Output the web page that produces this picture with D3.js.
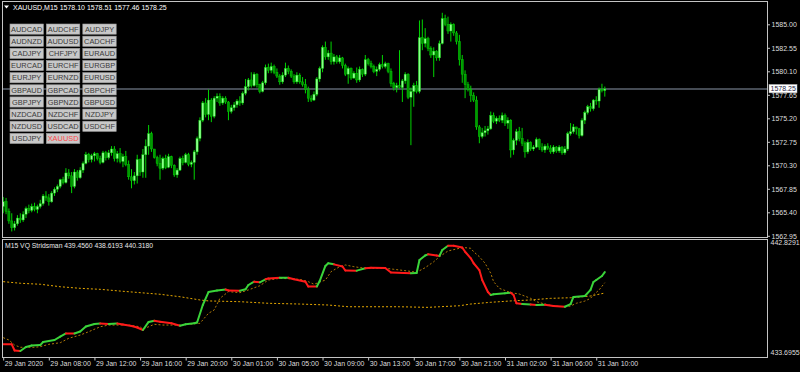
<!DOCTYPE html>
<html>
<head>
<meta charset="utf-8">
<script src="https://cdn.jsdelivr.net/npm/d3@7"></script>
<style>
  body { margin: 0; background: #000; }
  svg { display: block; font-family: "Liberation Sans", Arial, sans-serif; }
</style>
</head>
<body>
<svg id="chart" width="800" height="372"></svg>
<script>
// XAUUSD M15, 29 Jan 04:00 .. 31 Jan 10:45
const open = [
  1566.0,1566.5,1565.5,1564.5,1563.8,1564.2,1564.8,1564.6,1565.2,1565.8,
  1565.6,1566.0,1565.7,1566.0,1566.3,1567.1,1566.9,1566.5,1567.4,1567.8,
  1568.1,1568.8,1568.5,1569.5,1569.2,1568.1,1569.6,1569.0,1569.8,1570.5,
  1571.4,1570.9,1571.3,1571.5,1571.0,1570.6,1571.6,1571.1,1571.6,1572.0,
  1571.0,1571.5,1570.7,1571.2,1570.4,1569.1,1568.7,1569.2,1570.9,1569.6,
  1571.4,1572.3,1573.6,1572.0,1571.1,1570.5,1570.0,1571.0,1570.1,1571.2,
  1570.3,1569.3,1569.8,1571.0,1570.6,1571.4,1570.4,1570.6,1571.7,1573.1,
  1575.0,1576.8,1575.6,1577.1,1575.4,1577.3,1577.5,1576.8,1577.3,1576.9,
  1575.9,1576.3,1576.6,1577.0,1576.8,1577.8,1578.5,1579.2,1578.6,1579.8,
  1578.7,1578.0,1578.9,1580.5,1580.2,1580.6,1580.0,1579.6,1579.0,1579.7,
  1580.4,1580.1,1579.6,1579.0,1579.7,1579.0,1578.7,1578.2,1577.3,1577.1,
  1577.7,1579.3,1580.4,1582.6,1581.6,1582.0,1581.1,1581.6,1581.1,1581.5,
  1580.7,1579.8,1580.4,1579.4,1579.9,1579.2,1580.3,1579.8,1581.3,1580.9,
  1580.6,1580.1,1580.3,1580.8,1580.6,1580.9,1580.1,1578.8,1578.4,1578.6,
  1578.4,1579.1,1579.8,1577.4,1578.0,1578.6,1578.0,1583.6,1583.0,1583.5,
  1582.5,1581.8,1582.2,1581.5,1583.0,1585.6,1585.0,1584.3,1585.0,1584.1,
  1583.2,1581.3,1579.8,1578.7,1578.2,1577.6,1577.1,1574.3,1573.3,1573.7,
  1573.9,1574.1,1575.5,1574.9,1575.2,1575.0,1575.5,1574.7,1575.0,1571.9,
  1572.9,1573.8,1573.1,1572.6,1571.7,1572.7,1572.0,1572.2,1573.0,1572.2,
  1571.9,1572.3,1572.1,1571.7,1572.2,1571.8,1572.2,1571.6,1572.0,1573.6,
  1573.8,1574.3,1574.1,1573.4,1575.0,1575.8,1576.4,1576.2,1577.1,1577.0,
  1578.2,1578.10
];
const high = [
  1567.0,1566.9,1565.8,1565.3,1564.5,1565.1,1565.3,1565.5,1566.0,1566.2,
  1566.3,1566.4,1566.2,1566.7,1567.3,1567.6,1567.3,1567.6,1568.0,1568.3,
  1568.9,1569.1,1570.0,1569.9,1569.6,1569.9,1569.8,1570.1,1570.7,1571.7,
  1571.6,1571.5,1571.7,1571.6,1571.3,1571.8,1571.8,1571.9,1572.3,1572.3,
  1571.8,1572.1,1571.5,1571.8,1570.8,1569.9,1569.6,1571.4,1571.0,1572.0,
  1573.0,1574.5,1573.8,1572.0,1571.3,1571.4,1571.2,1571.4,1571.5,1571.3,
  1570.4,1570.0,1571.2,1571.3,1571.6,1571.6,1570.8,1571.9,1573.3,1575.3,
  1577.0,1577.3,1578.2,1577.3,1577.5,1577.8,1577.8,1577.5,1577.5,1577.0,
  1576.6,1576.9,1577.2,1577.5,1578.0,1579.3,1579.4,1580.0,1580.0,1579.9,
  1578.8,1579.1,1580.8,1580.9,1581.0,1580.8,1580.4,1579.8,1580.0,1581.0,
  1580.7,1580.3,1579.8,1580.0,1579.9,1579.5,1579.3,1578.5,1577.6,1578.0,
  1579.5,1580.6,1582.8,1583.2,1582.3,1583.2,1581.9,1581.8,1581.8,1581.6,
  1580.9,1580.6,1580.5,1580.1,1580.5,1580.6,1580.4,1581.8,1581.5,1581.2,
  1580.8,1580.6,1581.0,1581.8,1581.1,1581.0,1580.4,1579.0,1578.9,1582.3,
  1579.3,1580.0,1579.9,1578.4,1578.9,1579.1,1585.4,1585.5,1584.6,1583.7,
  1582.7,1582.6,1582.3,1583.3,1586.2,1586.0,1585.8,1585.2,1585.1,1584.3,
  1583.9,1581.8,1580.2,1579.0,1578.6,1577.9,1577.5,1574.5,1574.2,1574.4,
  1574.4,1575.9,1575.8,1575.4,1575.5,1575.8,1575.7,1575.3,1575.1,1573.1,
  1574.1,1574.3,1574.2,1572.8,1573.0,1572.8,1572.4,1573.2,1573.1,1572.6,
  1572.5,1572.6,1572.4,1572.4,1572.3,1572.4,1572.3,1572.3,1573.8,1574.7,
  1574.6,1574.3,1574.2,1575.2,1576.0,1576.6,1576.8,1577.2,1577.5,1578.4,
  1578.8,1578.51
];
const low = [
  1565.3,1565.2,1564.2,1563.4,1563.5,1564.0,1564.3,1564.4,1564.8,1565.3,
  1565.4,1565.5,1565.3,1565.8,1566.1,1566.6,1566.1,1566.4,1567.1,1567.5,
  1567.9,1568.3,1568.4,1568.9,1567.4,1567.9,1568.7,1568.9,1569.5,1570.4,
  1570.6,1570.6,1570.7,1570.8,1570.4,1570.5,1570.8,1570.9,1571.3,1570.7,
  1570.6,1570.5,1570.1,1570.2,1568.8,1567.9,1568.3,1568.4,1569.2,1569.0,
  1569.0,1571.4,1571.7,1571.0,1570.2,1568.8,1569.8,1569.9,1570.0,1570.0,
  1569.1,1569.0,1569.7,1570.3,1570.5,1570.2,1570.1,1568.8,1571.4,1572.8,
  1574.8,1575.3,1575.0,1574.8,1575.2,1576.9,1576.5,1576.6,1576.7,1575.0,
  1575.7,1576.0,1576.3,1576.5,1576.6,1577.6,1578.1,1578.4,1578.5,1578.4,
  1577.8,1577.9,1578.7,1579.9,1579.9,1579.8,1579.4,1578.7,1578.8,1579.5,
  1579.8,1579.4,1578.8,1578.8,1578.8,1578.5,1577.8,1576.9,1576.9,1577.0,
  1577.5,1579.0,1580.0,1581.3,1581.3,1580.8,1580.8,1580.9,1580.9,1580.4,
  1579.6,1578.8,1579.2,1579.3,1578.9,1579.0,1579.5,1579.6,1580.7,1580.4,
  1579.9,1579.6,1580.1,1580.4,1580.4,1579.9,1578.5,1578.1,1577.9,1578.3,
  1576.9,1578.8,1577.2,1572.4,1576.4,1577.8,1577.8,1582.3,1582.6,1582.2,
  1581.5,1579.5,1581.2,1581.2,1582.9,1584.8,1584.0,1583.2,1583.8,1582.9,
  1580.7,1578.9,1577.3,1578.0,1576.9,1576.9,1574.0,1572.6,1573.1,1573.3,
  1573.5,1574.0,1574.7,1574.6,1574.8,1574.7,1574.4,1574.1,1571.1,1571.4,
  1572.4,1572.8,1572.3,1571.1,1571.5,1571.8,1571.8,1572.1,1571.9,1571.7,
  1571.6,1571.9,1571.5,1571.5,1571.6,1571.6,1571.4,1571.4,1571.8,1573.4,
  1573.6,1573.5,1573.1,1573.3,1574.6,1575.6,1575.9,1576.0,1576.6,1576.3,
  1577.9,1577.46
];
const close = [
  1566.5,1565.5,1564.5,1563.8,1564.2,1564.8,1564.6,1565.2,1565.8,1565.6,
  1566.0,1565.7,1566.0,1566.3,1567.1,1566.9,1566.5,1567.4,1567.8,1568.1,
  1568.8,1568.5,1569.5,1569.2,1568.1,1569.6,1569.0,1569.8,1570.5,1571.4,
  1570.9,1571.3,1571.5,1571.0,1570.6,1571.6,1571.1,1571.6,1572.0,1571.0,
  1571.5,1570.7,1571.2,1570.4,1569.1,1568.7,1569.2,1570.9,1569.6,1571.4,
  1572.3,1573.6,1572.0,1571.1,1570.5,1570.0,1571.0,1570.1,1571.2,1570.3,
  1569.3,1569.8,1571.0,1570.6,1571.4,1570.4,1570.6,1571.7,1573.1,1575.0,
  1576.8,1575.6,1577.1,1575.4,1577.3,1577.5,1576.8,1577.3,1576.9,1575.9,
  1576.3,1576.6,1577.0,1576.8,1577.8,1578.5,1579.2,1578.6,1579.8,1578.7,
  1578.0,1578.9,1580.5,1580.2,1580.6,1580.0,1579.6,1579.0,1579.7,1580.4,
  1580.1,1579.6,1579.0,1579.7,1579.0,1578.7,1578.2,1577.3,1577.1,1577.7,
  1579.3,1580.4,1582.6,1581.6,1582.0,1581.1,1581.6,1581.1,1581.5,1580.7,
  1579.8,1580.4,1579.4,1579.9,1579.2,1580.3,1579.8,1581.3,1580.9,1580.6,
  1580.1,1580.3,1580.8,1580.6,1580.9,1580.1,1578.8,1578.4,1578.6,1578.4,
  1579.1,1579.8,1577.4,1578.0,1578.6,1578.0,1583.6,1583.0,1583.5,1582.5,
  1581.8,1582.2,1581.5,1583.0,1585.6,1585.0,1584.3,1585.0,1584.1,1583.2,
  1581.3,1579.8,1578.7,1578.2,1577.6,1577.1,1574.3,1573.3,1573.7,1573.9,
  1574.1,1575.5,1574.9,1575.2,1575.0,1575.5,1574.7,1575.0,1571.9,1572.9,
  1573.8,1573.1,1572.6,1571.7,1572.7,1572.0,1572.2,1573.0,1572.2,1571.9,
  1572.3,1572.1,1571.7,1572.2,1571.8,1572.2,1571.6,1572.0,1573.6,1573.8,
  1574.3,1574.1,1573.4,1575.0,1575.8,1576.4,1576.2,1577.1,1577.0,1578.2,
  1578.1,1578.25
];

const priceTicks = [1585.00,1582.55,1580.10,1577.65,1575.20,1572.75,1570.30,1567.85,1565.40,1562.95];
const timeIdx = [0,16,32,48,64,80,96,112,128,144,160,176,192,208];
const timeLabels = ["29 Jan 2020","29 Jan 08:00","29 Jan 12:00","29 Jan 16:00","29 Jan 20:00",
  "30 Jan 01:00","30 Jan 05:00","30 Jan 09:00","30 Jan 13:00","30 Jan 17:00","30 Jan 21:00",
  "31 Jan 02:00","31 Jan 06:00","31 Jan 10:00"];

// VQ Stridsman: main line (breakpoints, colour of segment ending at each point)
const vqIdx = [0,3,4,6,8,10,13,14,18,20,22,25,27,29,32,34,37,40,42,45,47,49,51,53,55,59,62,64,67,68,
  70,72,75,78,79,83,85,86,88,90,92,93,97,100,102,106,107,110,111,113,114,116,119,120,124,127,129,134,136,143,
  145,146,148,149,152,153,154,156,158,161,162,164,165,167,168,170,171,172,176,178,179,180,182,185,187,190,193,197,199,200,
  204,206,207,208,210,211];
const vqVal = [434.47,434.47,433.97,433.93,434.25,434.37,434.41,434.66,434.82,435.10,
  435.35,435.35,435.51,435.91,436.11,436.15,436.11,436.15,436.07,435.95,
  435.83,435.63,436.28,436.38,436.30,436.17,435.98,436.09,436.17,436.24,
  437.65,438.70,438.82,438.91,438.82,438.81,438.92,439.27,439.54,439.49,
  439.73,439.80,439.86,439.86,439.73,439.54,439.15,439.15,439.59,440.81,
  441.03,440.94,440.77,440.44,440.43,440.62,440.67,440.64,440.28,440.22,
  440.24,441.29,441.66,441.75,441.66,441.62,442.10,442.45,442.45,442.30,
  441.96,441.43,441.03,440.48,439.67,438.70,438.46,438.52,438.60,438.65,
  438.46,437.79,437.73,437.69,437.65,437.68,437.57,437.51,437.73,438.30,
  438.38,438.87,439.51,439.67,440.00,440.318];
const vqCol = ("rrrrgggggg" + "grggggrgrr" + "rrggrrrggg" + "ggggrrgggr" + "grrgrrrrgg" +
  "ggrrrgrrrr" + "ggggrrggrr" + "rrrrrrrggg" + "rrrgrgrrgg" + "gggggg").split("");

const sigIdx = [0,2,4,6,11,13,16,20,23,27,30,34,37,44,48,49,53,56,62,65,69,72,74,76,79,83,86,90,93,97,
  104,107,109,113,115,118,120,123,127,134,137,142,145,148,151,153,156,160,162,164,
  165,167,169,171,172,174,178,181,185,187,190,193,197,199,201,204,206,207,209,211];
const sigVal = [435.01,434.82,434.41,434.23,434.23,434.28,434.47,434.60,434.96,435.22,
  435.49,435.89,436.03,436.03,435.89,435.69,436.09,436.03,436.03,436.09,
  436.17,436.98,437.25,438.19,438.73,438.65,438.87,439.21,439.67,439.81,
  439.73,439.54,439.33,439.67,440.35,440.75,440.89,440.75,440.62,440.62,
  440.54,440.40,440.30,440.67,441.15,441.56,442.02,442.24,442.29,442.24,
  441.96,441.56,441.03,440.22,439.54,439.00,438.65,438.54,438.19,437.92,
  437.73,437.57,437.51,437.57,437.79,437.97,438.19,438.46,438.87,439.456];

const maIdx = [0,6,13,20,27,34,41,48,55,62,69,72,83,93,104,114,121,139,149,153,160,164,171,178,185,192,199,206,211];
const maVal = [439.54,439.41,439.33,439.13,439.00,438.92,438.78,438.65,438.52,438.32,438.06,437.98,437.92,
  437.79,437.73,437.65,437.51,437.51,437.46,437.51,437.59,437.73,437.87,437.98,438.06,438.19,438.24,438.38,438.619];

const symbols = ["AUDCAD","AUDCHF","AUDJPY","AUDNZD","AUDUSD","CADCHF","CADJPY","CHFJPY","EURAUD",
  "EURCAD","EURCHF","EURGBP","EURJPY","EURNZD","EURUSD","GBPAUD","GBPCAD","GBPCHF",
  "GBPJPY","GBPNZD","GBPUSD","NZDCAD","NZDCHF","NZDJPY","NZDUSD","USDCAD","USDCHF",
  "USDJPY","XAUUSD"];
const activeSymbol = "XAUUSD";
const lastPrice = 1578.25;
const vqRange = [433.6955, 442.8291];

const svg = d3.select("#chart");
const frame = "#c4c4c4", axisText = "#dedede";

const x = d3.scaleLinear().domain([0, 211]).range([3.2, 604.8]);
const y = d3.scaleLinear().domain([1562.95, 1585.00]).range([235.8, 24.3]);
const yv = d3.scaleLinear().domain(vqRange).range([353.9, 241]);

const defs = svg.append("defs");
defs.append("clipPath").attr("id", "clipMain").append("rect")
  .attr("x", 3).attr("y", 2).attr("width", 764).attr("height", 235);
defs.append("clipPath").attr("id", "clipInd").append("rect")
  .attr("x", 3).attr("y", 240).attr("width", 764).attr("height", 117);

// current price line
svg.append("line")
  .attr("x1", 3).attr("x2", 767)
  .attr("y1", y(lastPrice)).attr("y2", y(lastPrice))
  .attr("stroke", "#5c6470").attr("stroke-width", 1.4);

// candles
const bars = d3.range(open.length);
const candles = svg.append("g").attr("clip-path", "url(#clipMain)");
candles.selectAll("line.wick").data(bars).enter().append("line")
  .attr("class", "wick")
  .attr("x1", i => x(i)).attr("x2", i => x(i))
  .attr("y1", i => y(high[i])).attr("y2", i => y(low[i]))
  .attr("stroke", "#00d400").attr("stroke-width", 1);
candles.selectAll("rect.body").data(bars).enter().append("rect")
  .attr("class", "body")
  .attr("x", i => x(i) - 1.1)
  .attr("width", 2.2)
  .attr("y", i => y(Math.max(open[i], close[i])))
  .attr("height", i => Math.max(0.8, Math.abs(y(open[i]) - y(close[i]))))
  .attr("fill", i => close[i] >= open[i] ? "#8cff8c" : "#009a00")
  .attr("stroke", "#00d800").attr("stroke-width", 0.4);

// symbol buttons
const btn = svg.append("g").selectAll("g").data(symbols).enter().append("g")
  .attr("transform", (d, i) => `translate(${10 + (i % 3) * 36.4},${24 + Math.floor(i / 3) * 12.15})`);
btn.append("rect")
  .attr("width", 33.4).attr("height", 10.2)
  .attr("fill", "#c8c8c8").attr("stroke", "#9c9c9c").attr("stroke-width", 0.6);
btn.append("text")
  .attr("x", 16.7).attr("y", 5.2).attr("dy", "0.35em")
  .attr("text-anchor", "middle")
  .attr("font-size", 7.4)
  .attr("fill", d => d === activeSymbol ? "#ff4a4a" : "#3a3a3a")
  .text(d => d);

// chart title
svg.append("path").attr("d", "M4,5.5 L9,5.5 L6.5,8.5 Z").attr("fill", "#fff");
svg.append("text").attr("x", 13).attr("y", 10)
  .attr("font-size", 7).attr("fill", "#fff")
  .text("XAUUSD,M15  1578.10 1578.51 1577.46 1578.25");

// indicator lines
const ind = svg.append("g").attr("clip-path", "url(#clipInd)");
const lineIdx = (idx, val) => d3.line().x((d, k) => x(idx[k])).y((d, k) => yv(val[k]))(val);
ind.append("path").attr("d", lineIdx(maIdx, maVal))
  .attr("fill", "none").attr("stroke", "#e6a800").attr("stroke-width", 1)
  .attr("stroke-dasharray", "2,2");
ind.append("path").attr("d", lineIdx(sigIdx, sigVal))
  .attr("fill", "none").attr("stroke", "#b07a08").attr("stroke-width", 1)
  .attr("stroke-dasharray", "2,2");
const segs = d3.range(1, vqIdx.length);
ind.selectAll("line.vq").data(segs).enter().append("line")
  .attr("class", "vq")
  .attr("x1", k => x(vqIdx[k - 1])).attr("y1", k => yv(vqVal[k - 1]))
  .attr("x2", k => x(vqIdx[k])).attr("y2", k => yv(vqVal[k]))
  .attr("stroke", k => vqCol[k] === "g" ? "#3ad43a" : "#ff1a1a")
  .attr("stroke-width", 2).attr("stroke-linecap", "round");

svg.append("text").attr("x", 5).attr("y", 248)
  .attr("font-size", 6.8).attr("fill", "#e8e8e8")
  .text("M15 VQ Stridsman 439.4560 438.6193 440.3180");

// panel frames
svg.append("rect").attr("x", 2.5).attr("y", 1.5).attr("width", 765).attr("height", 236)
  .attr("fill", "none").attr("stroke", frame);
svg.append("rect").attr("x", 2.5).attr("y", 239.5).attr("width", 765).attr("height", 118)
  .attr("fill", "none").attr("stroke", frame);

// price axis
const yAxis = svg.append("g").attr("transform", "translate(767,0)")
  .call(d3.axisRight(y).tickValues(priceTicks).tickSize(3).tickPadding(1.5).tickFormat(d3.format(".2f")));
yAxis.select(".domain").remove();
yAxis.selectAll("line").attr("stroke", frame);
yAxis.selectAll("text").attr("fill", axisText).attr("font-size", 7)
  .attr("font-family", "Liberation Sans, Arial, sans-serif");

// last price marker
svg.append("rect").attr("x", 769).attr("y", y(lastPrice) - 4.6)
  .attr("width", 28).attr("height", 8.4)
  .attr("fill", "#fff").attr("stroke", "#b0b0b0").attr("stroke-width", 0.5);
svg.append("text").attr("x", 770.5).attr("y", y(lastPrice)).attr("dy", "0.34em")
  .attr("font-size", 7).attr("fill", "#1c1c40")
  .text(d3.format(".2f")(lastPrice));

// indicator scale labels
svg.selectAll("text.vqScale").data(vqRange).enter().append("text")
  .attr("class", "vqScale")
  .attr("x", 770.5)
  .attr("y", d => yv(d) + (d === vqRange[1] ? 2 : -1.4))
  .attr("dy", "0.34em")
  .attr("font-size", 7).attr("fill", axisText)
  .text(d => d3.format(".4f")(d));

// time axis
const xAxis = svg.append("g").attr("transform", "translate(0,357.5)")
  .call(d3.axisBottom(x).tickValues(timeIdx).tickSize(3).tickPadding(1)
    .tickFormat((d, i) => timeLabels[i]));
xAxis.select(".domain").remove();
xAxis.selectAll("line").attr("stroke", frame);
xAxis.selectAll("text").attr("fill", axisText).attr("font-size", 7)
  .attr("text-anchor", "start").attr("x", 1)
  .attr("font-family", "Liberation Sans, Arial, sans-serif");
</script>
</body>
</html>
